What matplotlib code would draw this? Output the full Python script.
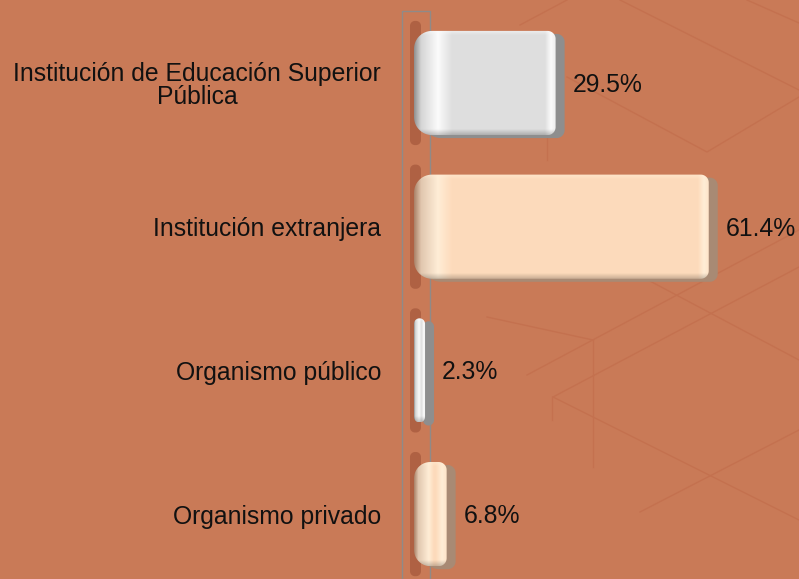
import numpy as np
import matplotlib
matplotlib.use("Agg")
import matplotlib.pyplot as plt
from matplotlib.path import Path
from matplotlib.patches import PathPatch
from matplotlib.lines import Line2D

# ---------------- data ----------------
categories = ["Institución de Educación Superior\nPública",
              "Institución extranjera",
              "Organismo público",
              "Organismo privado"]
values = [29.5, 61.4, 2.3, 6.8]
value_labels = ["29.5%", "61.4%", "2.3%", "6.8%"]
bar_styles = ["gray", "peach", "gray", "peach"]

# ---------------- style ----------------
BG = "#C97A57"
STYLES = {
    "gray":  dict(base=(0.872, 0.872, 0.872), light=(0.985, 0.985, 0.985),
                  dark=(0.56, 0.56, 0.56), side="#8E8E8E"),
    "peach": dict(base=(0.992, 0.858, 0.735), light=(1.0, 0.93, 0.84),
                  dark=(0.66, 0.50, 0.40), side="#A88A74"),
}
plt.rcParams["font.family"] = ["Liberation Sans", "DejaVu Sans"]
FS = 17.8

W, H = 799, 579
fig = plt.figure(figsize=(W / 100, H / 100), dpi=100, facecolor=BG)
AX_LEFT = 414
ax = fig.add_axes([AX_LEFT / W, 0, (W - AX_LEFT) / W, 1])
ax.patch.set_visible(False)
XMAX = 80.2
SPACING = 143.7
y_top = -83 / SPACING
y_bot = (H - 83) / SPACING
ax.set_xlim(0, XMAX)
ax.set_ylim(y_bot, y_top)
SX = (W - AX_LEFT) / XMAX          # px per x unit
SY = H / (y_bot - y_top)           # px per y unit

# ---------- background decoration (figure pixels) ----------
def fpx(pts):
    xs = [p[0] / W for p in pts]
    ys = [1 - p[1] / H for p in pts]
    return xs, ys

bg_lines = [
    [(520, 25), (567, 0)],
    [(620, 0), (799, 90)],
    [(747, 0), (799, 23)],
    [(567, 77), (707, 152), (799, 97)],
    [(547, 127), (547, 160)],
    [(597, 253), (799, 360)],
    [(527, 375), (799, 230)],
    [(553, 397), (799, 267)],
    [(593, 340), (593, 467)],
    [(553, 397), (799, 520)],
    [(552, 397), (552, 420)],
    [(640, 512), (799, 430)],
    [(487, 317), (593, 340)],
]
for pts in bg_lines:
    xs, ys = fpx(pts)
    fig.add_artist(Line2D(xs, ys, color="#C4714F", lw=1.0, zorder=-2))

# 3D wall frame
for pts in [[(402, 579), (402, 11), (430, 11), (430, 579)]]:
    xs, ys = fpx(pts)
    fig.add_artist(Line2D(xs, ys, color="#8F8A88", lw=1.0, zorder=-1))


# ---------- rounded path ----------
def rounded_path(x0, y0, w, h, rl_px, rr_px):
    wpx, hpx = w * SX, h * SY
    rl = min(rl_px, wpx / 2, hpx / 2)
    rr = min(rr_px, wpx / 2, hpx / 2)
    rlx, rly = rl / SX, rl / SY
    rrx, rry = rr / SX, rr / SY
    pts = []

    def arc(cx, cy, rx, ry, a0, a1):
        t = np.linspace(np.radians(a0), np.radians(a1), 16)
        return list(zip(cx + rx * np.cos(t), cy + ry * np.sin(t)))

    pts += arc(x0 + w - rrx, y0 + rry, rrx, rry, -90, 0)
    pts += arc(x0 + w - rrx, y0 + h - rry, rrx, rry, 0, 90)
    pts += arc(x0 + rlx, y0 + h - rly, rlx, rly, 90, 180)
    pts += arc(x0 + rlx, y0 + rly, rlx, rly, 180, 270)
    pts.append(pts[0])
    codes = [Path.MOVETO] + [Path.LINETO] * (len(pts) - 2) + [Path.CLOSEPOLY]
    return Path(pts, codes)


def face_image(st, wpx, hpx):
    nx = max(int(round(wpx)), 2)
    ny = max(int(round(hpx)), 2)
    base = np.array(st["base"])
    light = np.array(st["light"])
    dark = np.array(st["dark"])
    L = min(24.0, 0.45 * nx)
    xs_k = [0, 0.3 * L, L, min(L + 14, 0.6 * nx), max(nx - 11, 0.65 * nx),
            max(nx - 5, 0.8 * nx), nx]
    cols = [dark, 0.35 * dark + 0.65 * light, light, base, base, light,
            0.5 * (base + light)]
    x = np.arange(nx) + 0.5
    img = np.zeros((ny, nx, 3))
    for c in range(3):
        img[:, :, c] = np.interp(x, xs_k, [col[c] for col in cols])[None, :]
    yv = np.arange(ny) + 0.5
    top = np.clip(1 - yv / 5.0, 0, 1) * 0.6
    bot = np.clip((yv - (ny - 6)) / 6.0, 0, 1) * 0.22
    img = img * (1 - top[:, None, None]) + light[None, None, :] * top[:, None, None]
    img = img * (1 - bot[:, None, None])
    return np.clip(img, 0, 1)


# ---------- bars ----------
ypos = np.arange(len(categories))
bars = ax.barh(ypos, values, height=0.725, left=0, alpha=0.0)

for rect, style, lab in zip(bars.patches, bar_styles, value_labels):
    st = STYLES[style]
    x0, y0 = rect.get_x(), rect.get_y()
    w, h = rect.get_width(), rect.get_height()
    # floor / wall shadow
    sh = rounded_path(-4 / SX, y0 - 10 / SY, 11 / SX, h + 20 / SY, 5, 5)
    ax.add_patch(PathPatch(sh, facecolor="#9A4E33", edgecolor="none",
                           alpha=0.55, clip_on=False, zorder=1))
    # side of the 3D bar
    side = rounded_path(x0 + 9 / SX, y0 + 3 / SY, w, h, 18, 8)
    ax.add_patch(PathPatch(side, facecolor=st["side"], edgecolor="none",
                           clip_on=False, zorder=2))
    # face with gradient
    face = rounded_path(x0, y0, w, h, 18, 8)
    fp = PathPatch(face, facecolor="none", edgecolor="none", zorder=3)
    ax.add_patch(fp)
    img = face_image(st, w * SX, h * SY)
    im = ax.imshow(img, extent=(x0, x0 + w, y0 + h, y0), origin="upper",
                   aspect="auto", zorder=3, interpolation="bilinear")
    im.set_clip_path(fp)
    # value label
    ax.annotate(lab, xy=(x0 + w, y0 + h / 2), xytext=(17 * 0.72, -1.5),
                textcoords="offset points", ha="left", va="center",
                fontsize=FS, color="#111111", zorder=5, annotation_clip=False)

ax.set_xlim(0, XMAX)
ax.set_ylim(y_bot, y_top)

ax.set_yticks(ypos)
ax.set_yticklabels(categories, fontsize=FS, color="#111111")
for t in ax.get_yticklabels():
    t.set_multialignment("center")
    t.set_linespacing(0.98)
ax.tick_params(axis="y", length=0, pad=33 * 0.72)
ax.tick_params(axis="x", bottom=False, labelbottom=False)
for s in ax.spines.values():
    s.set_visible(False)

fig.savefig("out.png", dpi=100, facecolor=BG)
